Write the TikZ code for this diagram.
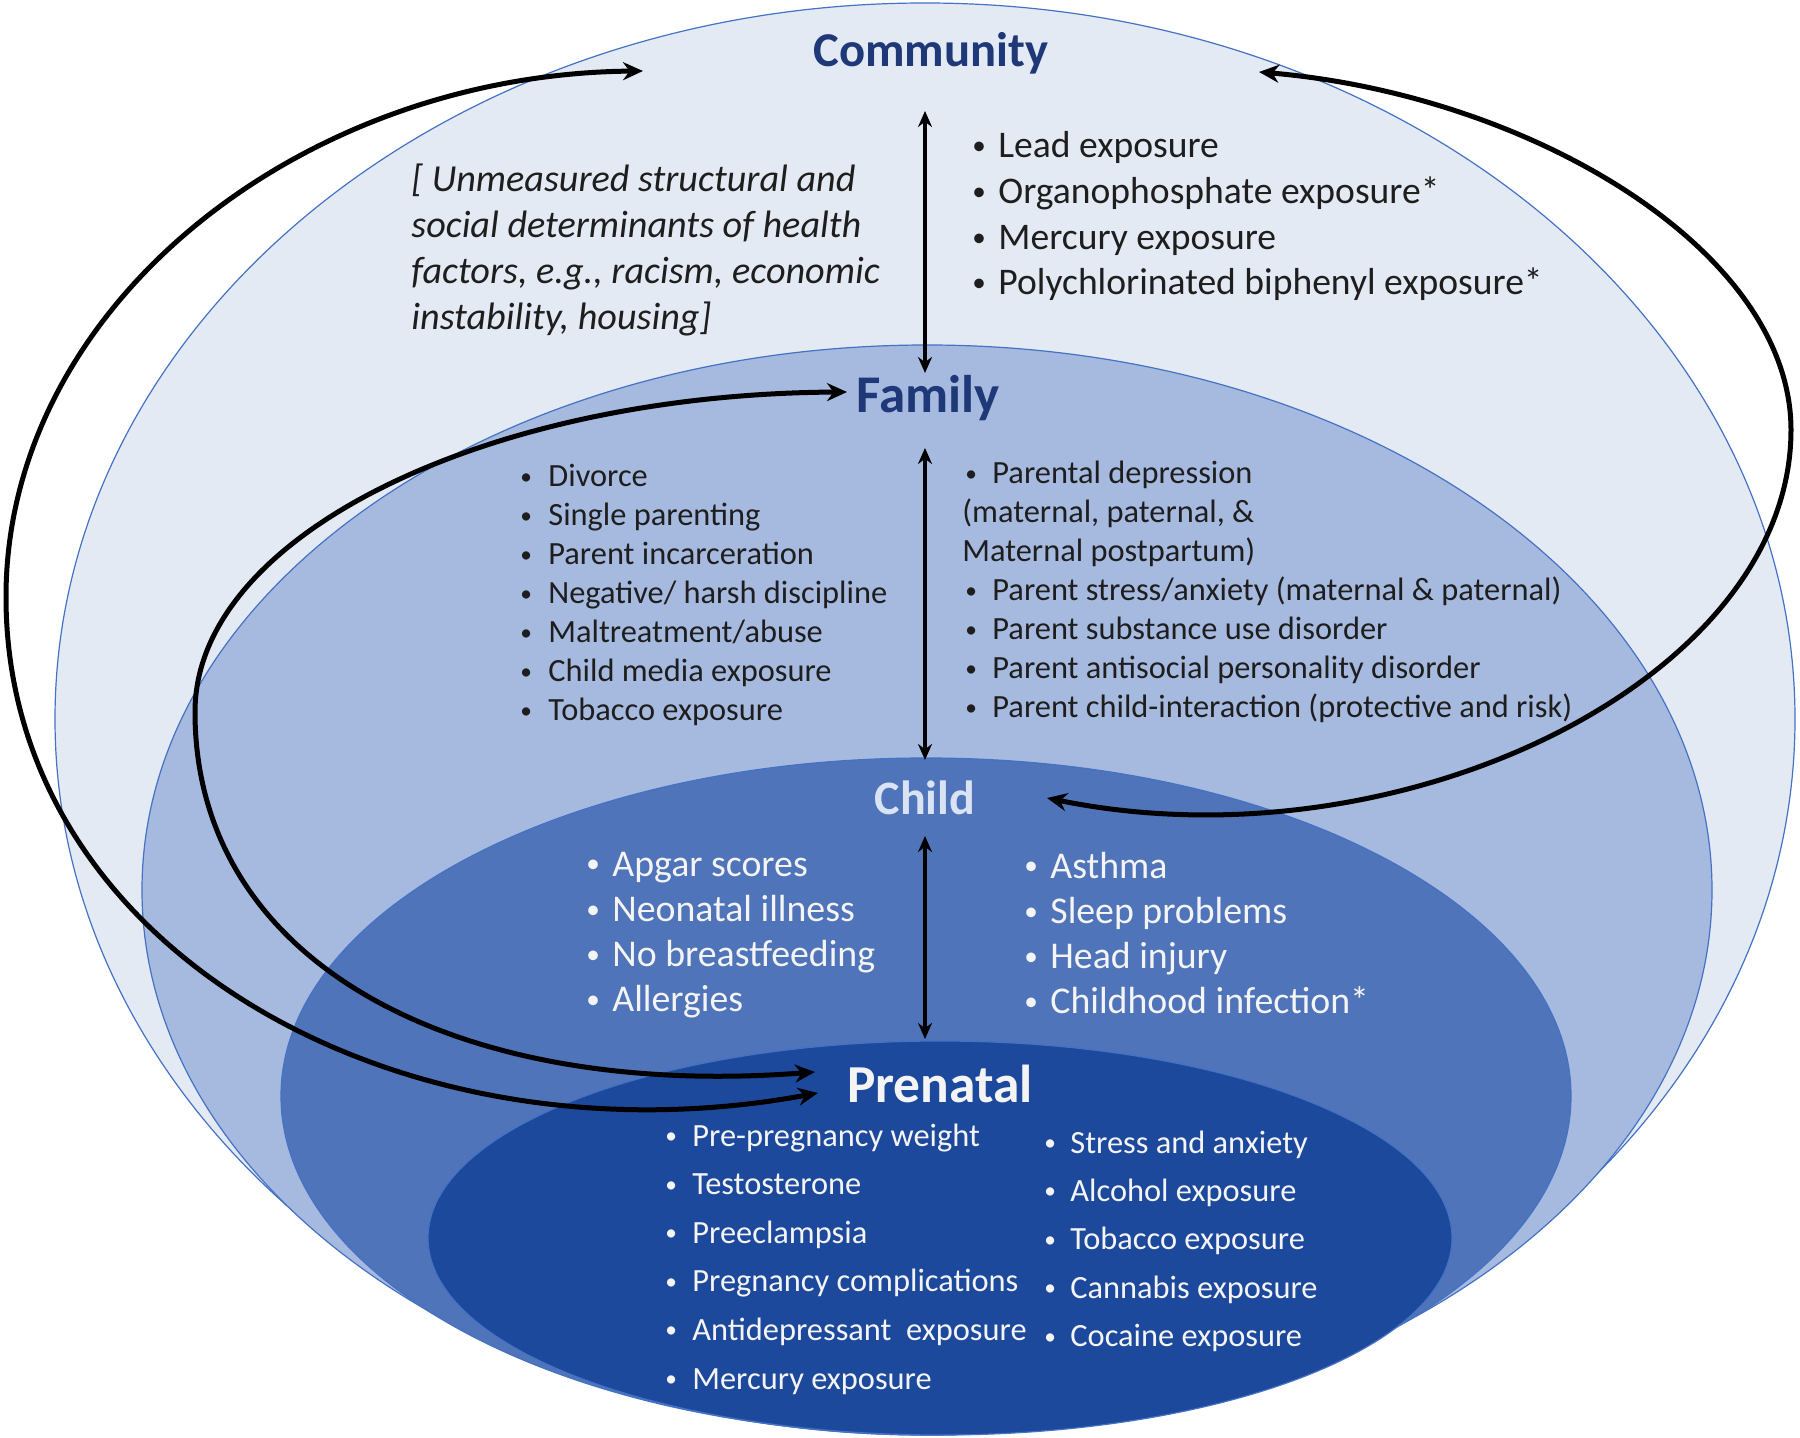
\documentclass[tikz,border=0pt]{standalone}
\usepackage{fontspec}
\usepackage{graphicx}
\setmainfont{Carlito}
\usetikzlibrary{arrows.meta}
\definecolor{commfill}{RGB}{228,234,244}
\definecolor{famfill}{RGB}{166,185,223}
\definecolor{childfill}{RGB}{79,116,185}
\definecolor{prenfill}{RGB}{29,73,157}
\definecolor{rimblue}{RGB}{68,114,196}
\definecolor{navy}{RGB}{31,56,120}
\definecolor{childtitle}{RGB}{218,227,243}
\definecolor{bodytxt}{RGB}{30,30,30}
\definecolor{lighttxt}{RGB}{244,244,244}
\newlength\bulw
\newcommand\bi{\makebox[\bulw][l]{\raisebox{0.08em}{\scalebox{0.72}{•}}}}
\begin{document}
\begin{tikzpicture}[x=0.5pt,y=-0.5pt,
  layer/.style={draw=rimblue, line width=0.6pt},
  link/.style={line width=2.5pt, {Stealth[length=10pt,width=9pt]}-{Stealth[length=10pt,width=9pt]}},
  vlink/.style={line width=1.8pt, {Stealth[length=8pt,width=7pt]}-{Stealth[length=8pt,width=7pt]}},
  title/.style={anchor=base, inner sep=0pt},
  list/.style={anchor=base west, inner sep=0pt},
]
\useasboundingbox (0,0) rectangle (1800,1438);
% nested layers
\fill[white] (0,0) rectangle (1800,1438);
\path[layer, fill=commfill] (925,719) ellipse [x radius=435pt, y radius=358pt];
\path[layer, fill=famfill] (927,890) ellipse [x radius=392.5pt, y radius=272.5pt];
\path[layer, fill=childfill] (926,1096) ellipse [x radius=322.5pt, y radius=169pt];
\path[layer, fill=prenfill] (940,1238) ellipse [x radius=256pt, y radius=98.5pt];

% titles
\node[title, font=\bfseries\fontsize{24.3}{29}\selectfont, text=navy] (community) at (931,67) {Community};
\node[title, font=\bfseries\fontsize{26.5}{31}\selectfont, text=navy] (family) at (928,413) {Family};
\node[title, font=\bfseries\fontsize{24}{29}\selectfont, text=childtitle] (child) at (925,814) {Child};
\node[title, font=\bfseries\fontsize{26.7}{31}\selectfont, text=lighttxt] (prenatal) at (940,1102) {Prenatal};

% lists
\node[list, font=\itshape\fontsize{19.1}{22.9}\selectfont, text=bodytxt] (sdoh) at (411,192)
 {\begin{tabular}[t]{@{}l@{}}
 [ Unmeasured structural and\\
 social determinants of health\\
 factors, e.g., racism, economic\\
 instability, housing]
 \end{tabular}};
\node[list, font=\fontsize{18.8}{22.8}\selectfont, text=bodytxt] (commlist) at (972,158)
 {\setlength\bulw{13pt}\begin{tabular}[t]{@{}l@{}}
 \bi Lead exposure\\
 \bi Organophosphate exposure*\\
 \bi Mercury exposure\\
 \bi Polychlorinated biphenyl exposure*
 \end{tabular}};
\node[list, font=\fontsize{16.2}{19.5}\selectfont, text=bodytxt] (famleft) at (520,487)
 {\setlength\bulw{14pt}\begin{tabular}[t]{@{}l@{}}
 \bi Divorce\\
 \bi Single parenting\\
 \bi Parent incarceration\\
 \bi Negative/ harsh discipline\\
 \bi Maltreatment/abuse\\
 \bi Child media exposure\\
 \bi Tobacco exposure
 \end{tabular}};
\node[list, font=\fontsize{16.2}{19.5}\selectfont, text=bodytxt] (famright) at (965,484)
 {\setlength\bulw{13.5pt}\begin{tabular}[t]{@{}l@{}}
 \bi Parental depression\\
 \hspace{-1.5pt}(maternal, paternal, \&\\
 \hspace{-1.5pt}Maternal postpartum)\\
 \bi Parent stress/anxiety (maternal \& paternal)\\
 \bi Parent substance use disorder\\
 \bi Parent antisocial personality disorder\\
 \bi Parent child-interaction (protective and risk)
 \end{tabular}};
\node[list, font=\fontsize{18.9}{22.6}\selectfont, text=lighttxt] (childleft) at (586,876)
 {\setlength\bulw{13pt}\begin{tabular}[t]{@{}l@{}}
 \bi Apgar scores\\
 \bi Neonatal illness\\
 \bi No breastfeeding\\
 \bi Allergies
 \end{tabular}};
\node[list, font=\fontsize{18.9}{22.6}\selectfont, text=lighttxt] (childright) at (1024,878)
 {\setlength\bulw{13pt}\begin{tabular}[t]{@{}l@{}}
 \bi Asthma\\
 \bi Sleep problems\\
 \bi Head injury\\
 \bi Childhood infection*
 \end{tabular}};
\node[list, font=\fontsize{16.2}{24.3}\selectfont, text=lighttxt] (prenleft) at (665,1146)
 {\setlength\bulw{13.5pt}\begin{tabular}[t]{@{}l@{}}
 \bi Pre-pregnancy weight\\
 \bi Testosterone\\
 \bi Preeclampsia\\
 \bi Pregnancy complications\\
 \bi Antidepressant\ \ exposure\\
 \bi Mercury exposure
 \end{tabular}};
\node[list, font=\fontsize{16.2}{24.2}\selectfont, text=lighttxt] (prenright) at (1044,1153)
 {\setlength\bulw{13pt}\begin{tabular}[t]{@{}l@{}}
 \bi Stress and anxiety\\
 \bi Alcohol exposure\\
 \bi Tobacco exposure\\
 \bi Cannabis exposure\\
 \bi Cocaine exposure
 \end{tabular}};

% connector end points
\coordinate (cfTop) at (925,111);
\coordinate (cfBot) at (925,373);
\coordinate (fcTop) at (925,448);
\coordinate (fcBot) at (925,760);
\coordinate (cpTop) at (925,836);
\coordinate (cpBot) at (925,1039);
\coordinate (commL) at (643,71);
\coordinate (outerW) at (6,597);
\coordinate (prenA) at (818,1093);
\coordinate (famL) at (847,392);
\coordinate (innerW) at (195,712);
\coordinate (prenB) at (815,1072);
\coordinate (commR) at (1259,72);
\coordinate (rightE) at (1791,430);
\coordinate (childR) at (1047,798);

% vertical links
\draw[vlink] (cfTop) -- (cfBot);
\draw[vlink] (fcTop) -- (fcBot);
\draw[vlink] (cpTop) -- (cpBot);

% curved links
\draw[link] (commL) .. controls (300,74) and (6,307) .. (outerW)
  .. controls (6,950) and (400,1170) .. (prenA);
\draw[link] (famL) .. controls (487,394) and (195,535) .. (innerW)
  .. controls (195,960) and (450,1100) .. (prenB);
\draw[link] (commR) .. controls (1530,95) and (1791,250) .. (rightE)
  .. controls (1791,680) and (1400,870) .. (childR);
\end{tikzpicture}
\end{document}
